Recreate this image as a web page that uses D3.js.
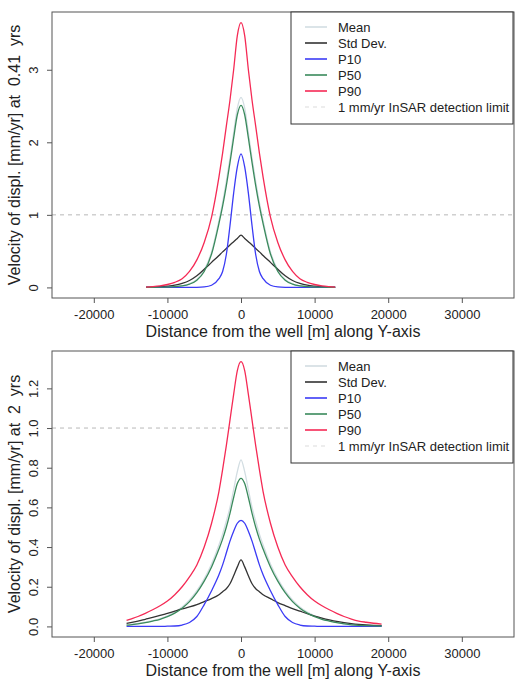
<!DOCTYPE html>
<html>
<head>
<meta charset="utf-8">
<script src="https://cdn.jsdelivr.net/npm/d3@7"></script>
<style>
  html, body { margin: 0; padding: 0; background: #fff; }
  svg { display: block; }
  text { font-family: "Liberation Sans", Arial, Helvetica, sans-serif; fill: #222; white-space: pre; }
</style>
</head>
<body>
<svg id="chart" width="515" height="680"></svg>
<script>
// ---- Profiles across the well, early time (0.41 yrs) ----
const topDistance = [-12900,-12000,-11000,-10000,-9000,-8000,-7000,-6000,-5000,-4000,-3000,-2500,-2000,-1500,-1000,-500,0,
                     500,1000,1500,2000,2500,3000,4000,5000,6000,7000,8000,9000,10000,11000,12000,12800];
const topMean = [0,0.001,0.003,0.006,0.012,0.024,0.05,0.11,0.24,0.49,0.92,1.17,1.46,1.78,2.13,2.47,2.62,
                 2.47,2.13,1.78,1.46,1.17,0.92,0.49,0.24,0.11,0.05,0.024,0.012,0.006,0.003,0.001,0];
const topStd  = [0.002,0.004,0.009,0.017,0.03,0.055,0.095,0.16,0.25,0.345,0.44,0.49,0.535,0.585,0.63,0.675,0.72,
                 0.675,0.63,0.585,0.535,0.49,0.44,0.345,0.25,0.16,0.095,0.055,0.03,0.017,0.009,0.004,0.002];
const topP10  = [0,0,0,0,0,0,0,0.001,0.006,0.03,0.12,0.22,0.45,0.85,1.30,1.66,1.84,
                 1.66,1.30,0.85,0.45,0.22,0.12,0.03,0.006,0.001,0,0,0,0,0,0,0];
const topP50  = [0,0.001,0.003,0.005,0.01,0.02,0.045,0.10,0.22,0.46,0.88,1.12,1.40,1.72,2.06,2.38,2.51,
                 2.38,2.06,1.72,1.40,1.12,0.88,0.46,0.22,0.10,0.045,0.02,0.01,0.005,0.003,0.001,0];
const topP90  = [0.005,0.01,0.02,0.04,0.07,0.12,0.22,0.38,0.62,0.97,1.52,1.85,2.22,2.58,3.0,3.47,3.65,
                 3.47,3.0,2.58,2.22,1.85,1.52,0.97,0.62,0.38,0.22,0.12,0.07,0.04,0.02,0.01,0.005];

// ---- Profiles across the well, later time (2 yrs) ----
const botDistance = [-15550,-15000,-14000,-13000,-12000,-11000,-10000,-9000,-8000,-7000,-6000,-5000,-4000,-3000,-2500,-2000,-1500,-1000,-500,0,
                     500,1000,1500,2000,2500,3000,4000,5000,6000,7000,8000,9000,10000,11000,12000,13000,14000,15000,16000,17000,18000,19100];
const botMean = [0.008,0.01,0.015,0.021,0.029,0.039,0.053,0.072,0.098,0.133,0.18,0.24,0.315,0.41,0.465,0.53,0.60,0.69,0.78,0.84,
                 0.78,0.69,0.60,0.53,0.465,0.41,0.315,0.24,0.18,0.133,0.098,0.072,0.053,0.039,0.029,0.021,0.015,0.01,0.007,0.005,0.004,0.003];
const botStd  = [0.015,0.019,0.027,0.036,0.045,0.055,0.066,0.077,0.088,0.098,0.11,0.125,0.14,0.16,0.175,0.19,0.215,0.255,0.30,0.335,
                 0.30,0.255,0.215,0.19,0.175,0.16,0.14,0.12,0.105,0.09,0.077,0.064,0.052,0.042,0.033,0.025,0.019,0.014,0.01,0.007,0.005,0.004];
const botP10  = [0,0,0,0,0,0,0.001,0.002,0.007,0.02,0.05,0.11,0.18,0.26,0.31,0.37,0.43,0.48,0.52,0.535,
                 0.52,0.48,0.43,0.37,0.31,0.26,0.18,0.11,0.05,0.02,0.007,0.002,0.001,0,0,0,0,0,0,0,0,0];
const botP50  = [0.006,0.008,0.013,0.019,0.027,0.036,0.049,0.067,0.092,0.125,0.17,0.228,0.30,0.39,0.44,0.50,0.57,0.65,0.72,0.746,
                 0.72,0.65,0.57,0.50,0.44,0.39,0.30,0.228,0.17,0.125,0.092,0.067,0.049,0.036,0.027,0.019,0.013,0.008,0.005,0.004,0.003,0.002];
const botP90  = [0.03,0.037,0.05,0.066,0.084,0.104,0.128,0.16,0.20,0.25,0.31,0.40,0.52,0.68,0.79,0.91,1.04,1.17,1.29,1.335,
                 1.29,1.17,1.04,0.91,0.79,0.68,0.52,0.40,0.31,0.25,0.20,0.16,0.128,0.104,0.084,0.066,0.05,0.037,0.027,0.021,0.016,0.012];

// axis ticks and labels
const xTicks = [-20000, -10000, 0, 10000, 20000, 30000];
const topYTicks = [0, 1, 2, 3];
const botYTicks = [0, 0.2, 0.4, 0.6, 0.8, 1.0, 1.2];
const detectionLimit = 1;
const seriesNames = ["Mean", "Std Dev.", "P10", "P50", "P90"];
const limitLabel = "1 mm/yr InSAR detection limit";
const xTitle = "Distance from the well [m] along Y-axis";
const topYTitle = "Velocity of displ. [mm/yr] at  0.41  yrs";
const botYTitle = "Velocity of displ. [mm/yr] at  2  yrs";

const colors = { "Mean": "#d2dde2", "Std Dev.": "#333333", "P10": "#3b3bf5", "P50": "#3a8a5c", "P90": "#f52a55" };

const svg = d3.select("#chart");
const left = 52, right = 514;
const xDomain = [-25680, 37090];

function drawPanel(cfg) {
  const { top, bottom, yDomain, yTicks, yFmt, dist, series, yTitle } = cfg;
  const x = d3.scaleLinear().domain(xDomain).range([left, right]);
  const y = d3.scaleLinear().domain(yDomain).range([bottom, top]);
  const g = svg.append("g");

  // detection limit
  g.append("line")
    .attr("x1", left).attr("x2", right)
    .attr("y1", y(detectionLimit)).attr("y2", y(detectionLimit))
    .attr("stroke", "#b8b8b8").attr("stroke-width", 1).attr("stroke-dasharray", "4,4");

  // curves
  const line = d3.line().x((d, i) => x(dist[i])).y(d => y(d)).curve(d3.curveMonotoneX);
  seriesNames.forEach(name => {
    g.append("path")
      .attr("d", line(series[name]))
      .attr("fill", "none")
      .attr("stroke", colors[name])
      .attr("stroke-width", 1.3);
  });

  // x axis
  const xa = g.append("g").attr("transform", `translate(0,${bottom})`)
    .call(d3.axisBottom(x).tickValues(xTicks).tickSize(5).tickFormat(d3.format("d")));
  xa.select(".domain").remove();
  xa.selectAll(".tick line").attr("stroke", "#555");
  xa.selectAll(".tick text").attr("y", 21).attr("dy", 0)
    .style("font-size", "13px").style("font-family", "Liberation Sans, Arial, sans-serif").attr("fill", "#222")
    .text(d => String(d).replace("\u2212", "-"));

  // y axis with labels parallel to the axis
  const ya = g.append("g").attr("transform", `translate(${left},0)`)
    .call(d3.axisLeft(y).tickValues(yTicks).tickSize(5).tickFormat(d3.format(yFmt)));
  ya.select(".domain").remove();
  ya.selectAll(".tick line").attr("stroke", "#555");
  ya.selectAll(".tick text")
    .attr("x", 0).attr("y", -14).attr("dy", 0)
    .attr("transform", "rotate(-90)")
    .attr("text-anchor", "middle")
    .style("font-size", "13px").style("font-family", "Liberation Sans, Arial, sans-serif").attr("fill", "#222");

  // plot frame
  g.append("rect").attr("x", left).attr("y", top)
    .attr("width", right - left).attr("height", bottom - top)
    .attr("fill", "none").attr("stroke", "#555").attr("stroke-width", 1);

  // axis titles
  g.append("text").attr("x", (left + right) / 2).attr("y", bottom + 38.5)
    .attr("text-anchor", "middle").style("font-size", "16px").text(xTitle);
  g.append("text")
    .attr("transform", `translate(20,${(top + bottom) / 2}) rotate(-90)`)
    .attr("text-anchor", "middle").style("font-size", "16px").text(yTitle);

  // legend
  const lx = 291, lw = 222, lh = 112;
  const lg = g.append("g").attr("transform", `translate(${lx},${top})`);
  lg.append("rect").attr("x", 0).attr("y", 0).attr("width", lw).attr("height", lh)
    .attr("fill", "#fff").attr("stroke", "#333").attr("stroke-width", 1);
  const entries = seriesNames.map(n => ({ label: n, color: colors[n], dash: null }))
    .concat([{ label: limitLabel, color: "#e8e8e8", dash: "4,4" }]);
  entries.forEach((e, i) => {
    const cy = 15 + i * 16;
    lg.append("line").attr("x1", 14).attr("x2", 36).attr("y1", cy).attr("y2", cy)
      .attr("stroke", e.color).attr("stroke-width", 1.6)
      .attr("stroke-dasharray", e.dash);
    lg.append("text").attr("x", 47).attr("y", cy + 4.5).style("font-size", "13px").text(e.label);
  });
}

drawPanel({
  top: 12, bottom: 298, yDomain: [-0.146, 3.796], yTicks: topYTicks, yFmt: "d",
  dist: topDistance,
  series: { "Mean": topMean, "Std Dev.": topStd, "P10": topP10, "P50": topP50, "P90": topP90 },
  yTitle: topYTitle
});
drawPanel({
  top: 351, bottom: 637, yDomain: [-0.0534, 1.3884], yTicks: botYTicks, yFmt: ".1f",
  dist: botDistance,
  series: { "Mean": botMean, "Std Dev.": botStd, "P10": botP10, "P50": botP50, "P90": botP90 },
  yTitle: botYTitle
});
</script>
</body>
</html>
